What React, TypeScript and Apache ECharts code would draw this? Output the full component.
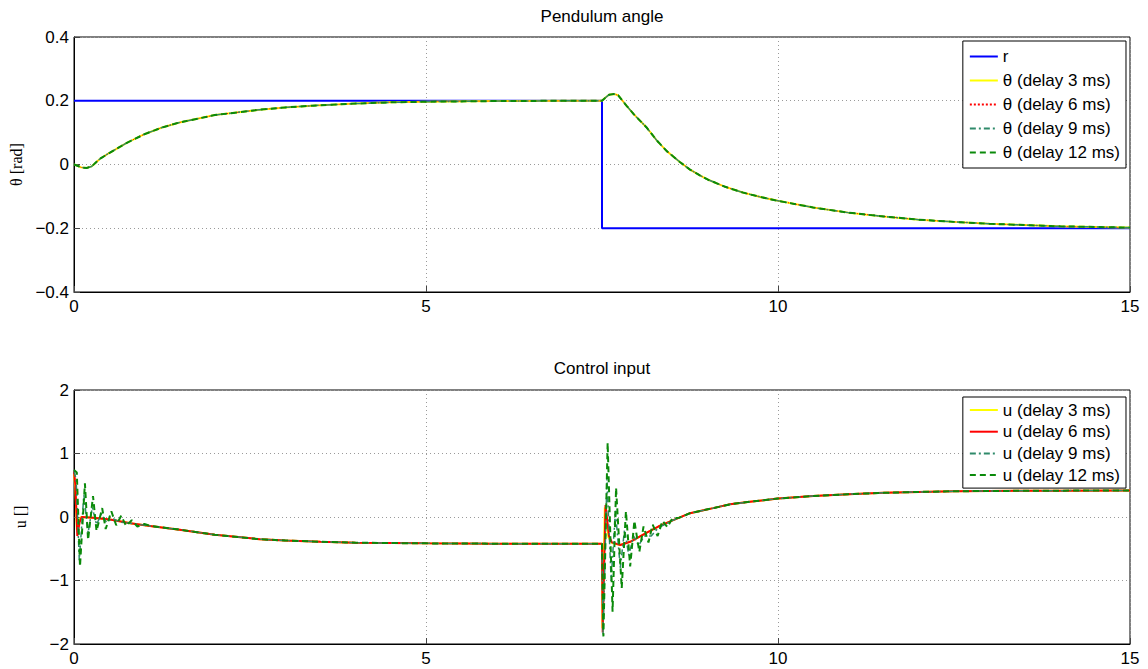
import React, { useEffect, useRef } from 'react';
import * as echarts from 'echarts';

const FONT = '"Liberation Sans", Arial, Helvetica, sans-serif';
const SERIF = '"Liberation Serif", "Times New Roman", serif';

// Time ticks
const xTicks = [0, 5, 10, 15];

// Reference r
const rData: [number, number][] = [[0, 0.2], [7.5, 0.2], [7.5, -0.2], [15, -0.2]];

// Pendulum angle (all delays overlap visually)
const thetaBase: [number, number][] = [
  [0, 0], [0.05, -0.004], [0.1, -0.009], [0.18, -0.011], [0.25, -0.006], [0.37, 0.018], [0.5, 0.036],
  [0.75, 0.068], [1, 0.095], [1.25, 0.116], [1.5, 0.132], [2, 0.155], [2.64, 0.172], [3, 0.179],
  [3.5, 0.186], [4, 0.191], [4.5, 0.195], [5, 0.197], [6, 0.199], [7, 0.2], [7.5, 0.2], [7.55, 0.21],
  [7.6, 0.219], [7.67, 0.221], [7.73, 0.217], [7.85, 0.184], [7.95, 0.158], [8.13, 0.117], [8.28, 0.075],
  [8.42, 0.042], [8.61, 0.007], [8.75, -0.016], [8.89, -0.034], [9, -0.047], [9.25, -0.07], [9.5, -0.088],
  [9.75, -0.102], [10, -0.114], [10.5, -0.135], [11, -0.151], [11.5, -0.163], [12, -0.173], [12.5, -0.18],
  [13, -0.186], [13.5, -0.19], [14, -0.194], [14.5, -0.196], [15, -0.198],
];
const theta3 = thetaBase;
const theta6 = thetaBase;
const theta9 = thetaBase;
const theta12 = thetaBase;

// Control input, common parts
const uTail: [number, number][] = [
  [8.75, 0.06], [9.08, 0.14], [9.32, 0.2], [9.6, 0.24], [10, 0.29], [10.5, 0.33], [11, 0.36],
  [11.5, 0.38], [12, 0.395], [12.5, 0.405], [13, 0.41], [14, 0.415], [15, 0.418],
];
const uMid: [number, number][] = [
  [1.08, -0.14], [1.5, -0.2], [2, -0.28], [2.64, -0.35], [3, -0.37], [3.5, -0.39], [4, -0.405],
  [5, -0.415], [6, -0.42], [7.5, -0.42],
];

const u3: [number, number][] = [
  [0, 0.68], [0.02, 0.45], [0.04, -0.2], [0.07, -0.05], [0.1, 0], [0.27, -0.01], [0.51, -0.04], [0.8, -0.1],
  ...uMid,
  [7.505, -1.75], [7.54, 0.15], [7.59, -0.32], [7.64, -0.41], [7.76, -0.44], [7.9, -0.39], [8.13, -0.25],
  [8.3, -0.15], [8.47, -0.07],
  ...uTail,
];
const u6: [number, number][] = [
  [0, 0.72], [0.02, 0.5], [0.047, -0.3], [0.08, -0.08], [0.11, 0], [0.27, -0.01], [0.51, -0.04], [0.8, -0.1],
  ...uMid,
  [7.51, -1.82], [7.55, 0.19], [7.6, -0.3], [7.64, -0.4], [7.76, -0.44], [7.9, -0.39], [8.13, -0.25],
  [8.3, -0.15], [8.47, -0.07],
  ...uTail,
];
const u9: [number, number][] = [
  [0, 0.72], [0.03, 0.6], [0.075, -0.68], [0.14, 0.35], [0.2, -0.25], [0.26, 0.15], [0.32, -0.12],
  [0.39, 0.05], [0.46, -0.08], [0.55, -0.02], [0.65, -0.08], [0.8, -0.1],
  ...uMid,
  [7.515, -1.86], [7.57, 0.6], [7.63, -1.0], [7.69, 0.1], [7.76, -0.8], [7.82, -0.2], [7.88, -0.6],
  [7.95, -0.3], [8.02, -0.45], [8.1, -0.3], [8.2, -0.3], [8.3, -0.17], [8.47, -0.07],
  ...uTail,
];
const u12: [number, number][] = [
  [0, 0.74], [0.04, 0.7], [0.085, -0.78], [0.155, 0.53], [0.2, -0.36], [0.27, 0.33], [0.32, -0.22],
  [0.4, 0.14], [0.45, -0.19], [0.53, 0.09], [0.6, -0.13], [0.67, 0.02], [0.74, -0.14], [0.82, -0.05],
  [0.9, -0.15], [1.0, -0.11],
  ...uMid,
  [7.52, -1.88], [7.58, 1.17], [7.65, -1.49], [7.7, 0.46], [7.78, -1.12], [7.84, 0.09], [7.9, -0.78],
  [7.96, -0.06], [8.03, -0.55], [8.09, -0.15], [8.16, -0.4], [8.22, -0.12], [8.29, -0.3], [8.36, -0.06],
  [8.43, -0.16], [8.5, -0.02], [8.6, -0.01],
  ...uTail,
];

const thetaNames = ['θ (delay 3 ms)', 'θ (delay 6 ms)', 'θ (delay 9 ms)', 'θ (delay 12 ms)'];
const uNames = ['u (delay 3 ms)', 'u (delay 6 ms)', 'u (delay 9 ms)', 'u (delay 12 ms)'];

const TEAL = '#2f8a6a';
const GREEN = '#0a8a0a';

function fmtY(decimals: number) {
  return (v: number) => {
    if (Math.abs(v) < 1e-9) return '0';
    return v.toFixed(decimals).replace('-', '−');
  };
}

function xAxis(gridIndex: number) {
  return {
    type: 'value', gridIndex, min: 0, max: 15, interval: 5,
    axisLine: { onZero: false, lineStyle: { color: '#000', width: 1 } },
    axisTick: { inside: true, length: 6, lineStyle: { color: '#444' } },
    axisLabel: { color: '#000', fontSize: 17, fontFamily: FONT, margin: 6, customValues: xTicks },
    splitLine: { show: true, lineStyle: { type: [1, 3], color: '#9a9a9a', width: 1 } },
  };
}

function yAxis(gridIndex: number, min: number, max: number, interval: number, name: string, dec: number) {
  return {
    type: 'value', gridIndex, min, max, interval,
    name, nameLocation: 'middle', nameRotate: 90, nameGap: 46,
    nameTextStyle: { fontFamily: SERIF, fontSize: 16, color: '#000' },
    axisLine: { onZero: false, lineStyle: { color: '#000', width: 1 } },
    axisTick: { inside: true, length: 6, lineStyle: { color: '#444' } },
    axisLabel: { color: '#000', fontSize: 17, fontFamily: FONT, margin: 5, formatter: fmtY(dec) },
    splitLine: { show: true, lineStyle: { type: [1, 3], color: '#9a9a9a', width: 1 } },
  };
}

function line(name: string, data: [number, number][], color: string, type: any, width: number, idx: number) {
  return {
    type: 'line', name, data, xAxisIndex: idx, yAxisIndex: idx,
    symbol: 'none', showSymbol: false, smooth: false,
    lineStyle: { color, type, width },
    itemStyle: { color },
    emphasis: { disabled: true },
  };
}

const legendCommon = {
  orient: 'vertical', right: 22, align: 'left',
  itemWidth: 28, itemHeight: 14,
  borderColor: '#000', borderWidth: 1, backgroundColor: '#fff', borderRadius: 0,
  textStyle: { fontSize: 17, fontFamily: FONT, color: '#000', lineHeight: 20 },
  itemStyle: { opacity: 0, color: 'rgba(0,0,0,0)', borderWidth: 0 },
  selectedMode: false,
};

const option: any = {
  animation: false,
  backgroundColor: '#fff',
  title: [
    { text: 'Pendulum angle', left: 602, top: 8, textAlign: 'center', padding: 0,
      textStyle: { fontSize: 17, fontWeight: 'normal', fontFamily: FONT, color: '#000' } },
    { text: 'Control input', left: 602, top: 360, textAlign: 'center', padding: 0,
      textStyle: { fontSize: 17, fontWeight: 'normal', fontFamily: FONT, color: '#000' } },
  ],
  grid: [
    { left: 74, right: 18, top: 37, height: 255, show: true, borderColor: '#000', borderWidth: 1, backgroundColor: '#fff' },
    { left: 74, right: 18, top: 390, height: 254, show: true, borderColor: '#000', borderWidth: 1, backgroundColor: '#fff' },
  ],
  xAxis: [xAxis(0), xAxis(1)],
  yAxis: [
    yAxis(0, -0.4, 0.4, 0.2, 'θ [rad]', 1),
    yAxis(1, -2, 2, 1, 'u []', 0),
  ],
  legend: [
    { ...legendCommon, top: 41, itemGap: 4, padding: [5.5, 6, 5.5, 6], data: ['r', ...thetaNames] },
    { ...legendCommon, top: 397, itemGap: 1.7, padding: [3, 6, 3, 6], data: uNames },
  ],
  series: [
    line('r', rData, '#0000ff', 'solid', 2, 0),
    line(thetaNames[0], theta3, '#ffff00', 'solid', 2, 0),
    line(thetaNames[1], theta6, '#ff0000', 'dotted', 1, 0),
    line(thetaNames[2], theta9, TEAL, [6, 3, 2, 3], 1.5, 0),
    line(thetaNames[3], theta12, GREEN, [6, 4], 2, 0),
    line(uNames[0], u3, '#ffff00', 'solid', 2, 1),
    line(uNames[1], u6, '#ff0000', 'solid', 2, 1),
    line(uNames[2], u9, TEAL, [6, 3, 2, 3], 1.5, 1),
    line(uNames[3], u12, GREEN, [6, 4], 2, 1),
  ],
};

export default function App() {
  const ref = useRef<HTMLDivElement>(null);
  useEffect(() => {
    const chart = echarts.init(ref.current!, null, { renderer: 'svg' });
    chart.setOption(option);
    return () => chart.dispose();
  }, []);
  return <div ref={ref} style={{ position: 'fixed', left: 0, top: 0, width: 1148, height: 669 }} />;
}
